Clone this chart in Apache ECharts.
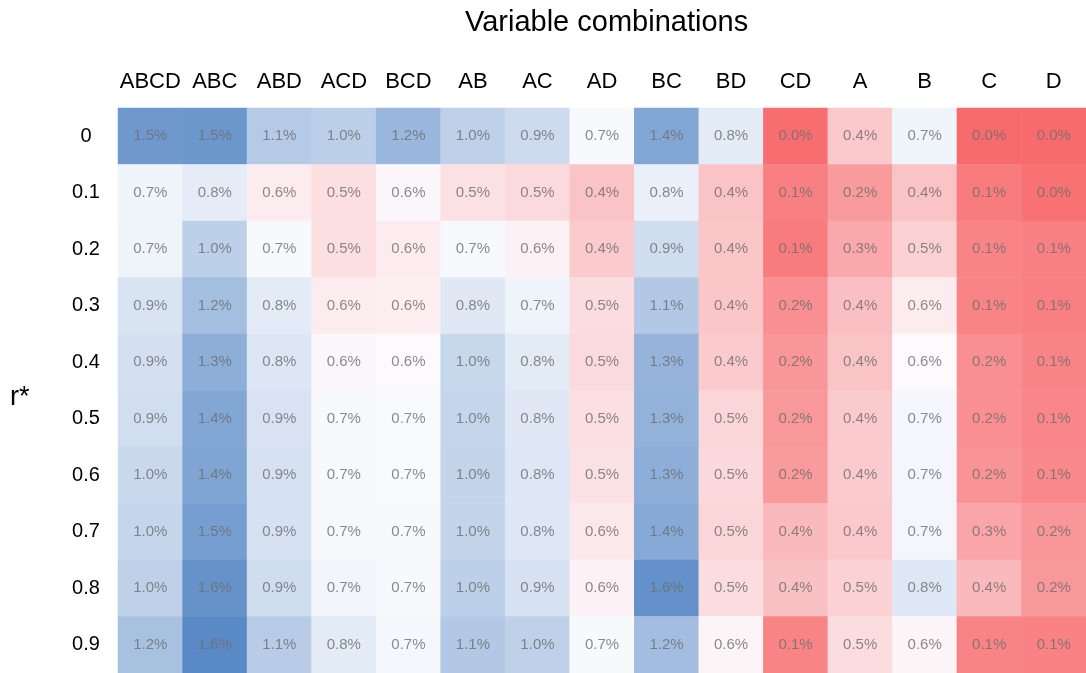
<!DOCTYPE html>
<html>
<head>
<meta charset="utf-8">
<script src="https://cdn.jsdelivr.net/npm/echarts@6/dist/echarts.min.js"></script>
<style>
  html, body { margin: 0; padding: 0; background: #fff; }
  #chart { width: 1086px; height: 673px; }
</style>
</head>
<body>
<div id="chart"></div>
<script>
// column categories (variable combinations)
var combos = ["ABCD", "ABC", "ABD", "ACD", "BCD", "AB", "AC", "AD", "BC", "BD", "CD", "A", "B", "C", "D"];
// row categories (r*)
var rStars = ["0", "0.1", "0.2", "0.3", "0.4", "0.5", "0.6", "0.7", "0.8", "0.9"];

// values in %, one array per r* row
var row00 = [1.50, 1.52, 1.08, 1.04, 1.24, 1.02, 0.93, 0.68, 1.38, 0.80, 0.02, 0.42, 0.72, 0.01, 0.01];
var row01 = [0.72, 0.79, 0.58, 0.52, 0.63, 0.53, 0.50, 0.40, 0.76, 0.40, 0.10, 0.22, 0.40, 0.08, 0.04];
var row02 = [0.73, 1.03, 0.68, 0.52, 0.58, 0.68, 0.60, 0.43, 0.92, 0.41, 0.08, 0.28, 0.46, 0.12, 0.10];
var row03 = [0.86, 1.18, 0.80, 0.58, 0.59, 0.82, 0.73, 0.51, 1.10, 0.41, 0.17, 0.38, 0.58, 0.12, 0.10];
var row04 = [0.89, 1.32, 0.84, 0.63, 0.64, 0.97, 0.80, 0.50, 1.27, 0.43, 0.20, 0.40, 0.64, 0.17, 0.12];
var row05 = [0.91, 1.38, 0.87, 0.68, 0.67, 0.98, 0.82, 0.52, 1.29, 0.48, 0.21, 0.43, 0.69, 0.17, 0.13];
var row06 = [0.96, 1.40, 0.88, 0.68, 0.67, 0.99, 0.83, 0.53, 1.32, 0.49, 0.22, 0.43, 0.70, 0.19, 0.14];
var row07 = [0.98, 1.46, 0.88, 0.68, 0.68, 0.99, 0.83, 0.56, 1.36, 0.48, 0.36, 0.42, 0.70, 0.27, 0.20];
var row08 = [1.02, 1.56, 0.92, 0.71, 0.68, 1.03, 0.88, 0.60, 1.57, 0.51, 0.39, 0.46, 0.83, 0.36, 0.21];
var row09 = [1.16, 1.63, 1.06, 0.80, 0.69, 1.10, 1.02, 0.68, 1.19, 0.62, 0.12, 0.51, 0.62, 0.12, 0.11];
var rows = [row00, row01, row02, row03, row04, row05, row06, row07, row08, row09];

// 3 colour scale: red (min) -> white (mid) -> blue (max)
var cLow = [248, 105, 107], cMid = [252, 252, 255], cHigh = [90, 138, 198];
var vMin = 0, vMid = 0.65, vMax = 1.63;

function mix(a, b, t) {
  t = Math.max(0, Math.min(1, t));
  return "rgb(" + a.map(function (x, i) { return Math.round(x + (b[i] - x) * t); }).join(",") + ")";
}
function cellColor(v) {
  if (v <= vMid) return mix(cLow, cMid, (v - vMin) / (vMid - vMin));
  return mix(cMid, cHigh, (v - vMid) / (vMax - vMid));
}

var data = [];
rows.forEach(function (row, y) {
  row.forEach(function (v, x) {
    data.push({ value: [x, y, v], itemStyle: { color: cellColor(v) } });
  });
});

var font = "Liberation Sans, Arial, sans-serif";
var chart = echarts.init(document.getElementById("chart"));
var option = {
  backgroundColor: "#fff",
  animation: false,
  grid: { left: 118, right: 0, top: 108, bottom: 0 },
  graphic: [
    {
      type: "text",
      x: 465,
      y: 8,
      style: { text: "Variable combinations", fontSize: 29, fill: "#000", fontFamily: font }
    },
    {
      type: "text",
      x: 10,
      y: 384,
      style: { text: "r*", fontSize: 27, fill: "#000", fontFamily: font }
    }
  ],
  xAxis: {
    type: "category",
    position: "top",
    data: combos,
    axisLine: { show: false },
    axisTick: { show: false },
    splitArea: { show: false },
    axisLabel: { interval: 0, margin: 15, fontSize: 22, color: "#000", fontFamily: font }
  },
  yAxis: {
    type: "category",
    inverse: true,
    data: rStars,
    axisLine: { show: false },
    axisTick: { show: false },
    splitArea: { show: false },
    axisLabel: { interval: 0, margin: 32, align: "center", fontSize: 20, color: "#000", fontFamily: font }
  },
  series: [{
    type: "heatmap",
    data: data,
    label: {
      show: true,
      fontSize: 15,
      color: "rgba(110,110,110,0.8)",
      fontFamily: font,
      formatter: function (p) { return p.value[2].toFixed(1) + "%"; }
    },
    emphasis: { disabled: true }
  }]
};
chart.setOption(option);
</script>
</body>
</html>
